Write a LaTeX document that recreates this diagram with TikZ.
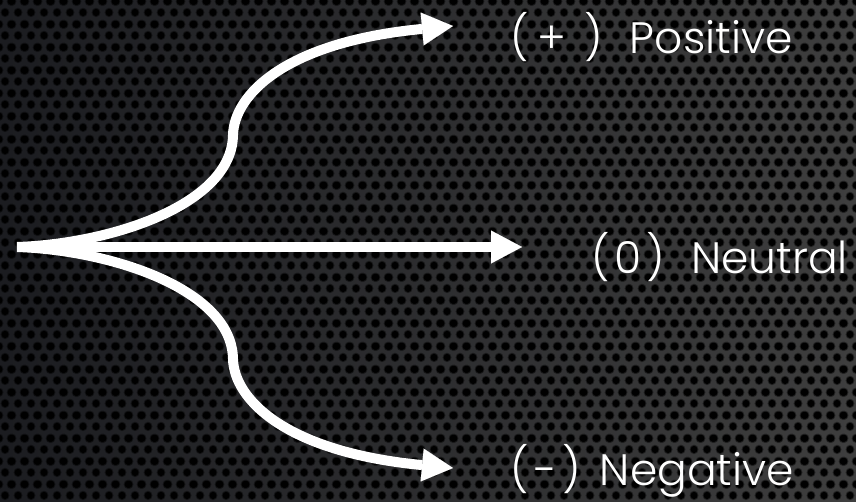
\documentclass[tikz,border=0pt]{standalone}
\usepackage{fontspec}
\setmainfont{Poppins}[UprightFont={* Light}, Ligatures=NoCommon]
\usetikzlibrary{arrows.meta,patterns}

% perforated metal: hexagonal grid of round holes (soft rim + dark core)
\pgfdeclarepatternformonly{holerim}{\pgfpointorigin}{\pgfpoint{13pt}{22.6pt}}{\pgfpoint{13pt}{22.6pt}}{%
  \pgfpathcircle{\pgfpoint{6.5pt}{5.65pt}}{4.8pt}%
  \pgfpathcircle{\pgfpoint{0pt}{16.95pt}}{4.8pt}%
  \pgfpathcircle{\pgfpoint{13pt}{16.95pt}}{4.8pt}%
  \pgfusepath{fill}}
\pgfdeclarepatternformonly{holecore}{\pgfpointorigin}{\pgfpoint{13pt}{22.6pt}}{\pgfpoint{13pt}{22.6pt}}{%
  \pgfpathcircle{\pgfpoint{6.5pt}{5.65pt}}{3.7pt}%
  \pgfpathcircle{\pgfpoint{0pt}{16.95pt}}{3.7pt}%
  \pgfpathcircle{\pgfpoint{13pt}{16.95pt}}{3.7pt}%
  \pgfusepath{fill}}

\definecolor{plateL}{HTML}{1B1C20}
\definecolor{plateR}{HTML}{3E3E3E}

\tikzset{
  flow/.style={draw=white, line width=10pt,
    -{Triangle[length=31pt,width=33pt,line width=0.01pt]}},
  lbl/.style={anchor=base west, inner sep=0pt, text=white,
    font=\fontsize{44}{50}\selectfont}
}

\begin{document}
\begin{tikzpicture}[x=1pt,y=-1pt]
  % background plate
  \fill[left color=plateL, right color=plateR] (0,0) rectangle (856,501);
  \fill[pattern=holerim, pattern color=black, opacity=0.45] (0,0) rectangle (856,501);
  \fill[pattern=holecore, pattern color=black] (0,0) rectangle (856,501);
  \useasboundingbox (0,0) rectangle (856,501);

  % branch point and arrow ends
  \coordinate (root) at (17,247);
  \coordinate (tipP) at (453,26);
  \coordinate (tipZ) at (522,247);
  \coordinate (tipM) at (453,468);

  % labels
  \node[lbl] (pos) at (510,53) {(\hspace{9pt}+\hspace{18pt})\hspace{27pt}Positive};
  \node[lbl] (neu) at (591,273) {(\hspace{5pt}0\hspace{5pt})\hspace{26pt}Neutral};
  \node[lbl] (neg) at (510,485) {(\hspace{6pt}-\hspace{5pt})\hspace{19pt}Negative};

  % three outcomes
  \draw[flow] (root) .. controls (110,244) and (232,205) .. (233,135)
                     .. controls (234,95) and (285,42) .. (tipP);
  \draw[flow] (root) -- (tipZ);
  \draw[flow] (root) .. controls (110,250) and (232,289) .. (233,359)
                     .. controls (234,399) and (285,452) .. (tipM);
\end{tikzpicture}
\end{document}
